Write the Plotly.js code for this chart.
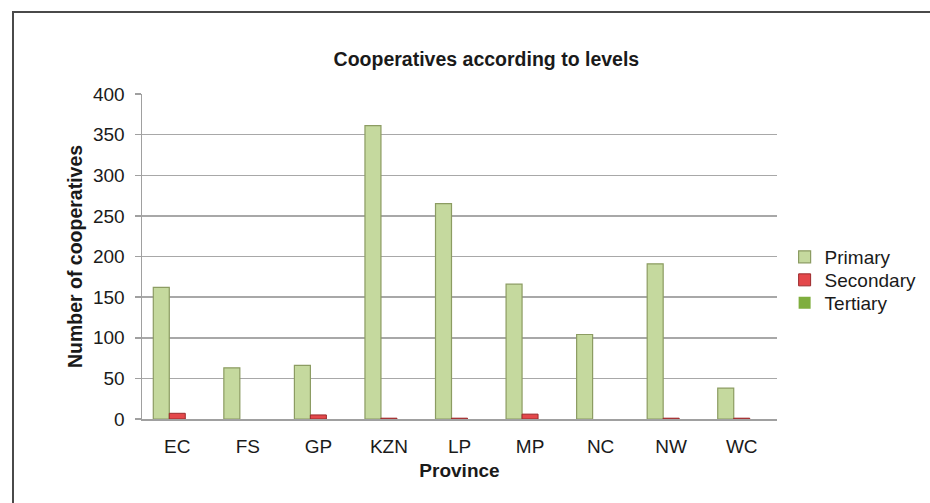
<!DOCTYPE html>
<html>
<head>
<meta charset="utf-8">
<script src="https://cdn.plot.ly/plotly-3.0.1.min.js"></script>
<style>
  html, body { margin: 0; padding: 0; background: #ffffff; }
  #wrap { position: relative; width: 930px; height: 503px; overflow: hidden; }
  #chart { width: 930px; height: 503px; }
  #frame {
    position: absolute; left: 12px; top: 11px; width: 1000px; height: 600px;
    border: 2px solid #4a4a4a; pointer-events: none; box-sizing: border-box;
  }
</style>
</head>
<body>
<div id="wrap">
  <div id="chart"></div>
  <div id="frame"></div>
</div>
<script>
// Provinces and cooperative counts per level
const provinces = ['EC', 'FS', 'GP', 'KZN', 'LP', 'MP', 'NC', 'NW', 'WC'];
const primary   = [162, 63, 66, 361, 265, 166, 104, 191, 38];
const secondary = [7, 0, 5, 1, 1, 6, 0, 1, 1];
const tertiary  = [0, 0, 0, 0, 0, 0, 0, 0, 0];
const yTicks    = [0, 50, 100, 150, 200, 250, 300, 350, 400];

const font = 'Liberation Sans, Arial, sans-serif';

// outline only where a bar actually has height
const edge = (vals, w) => vals.map(v => (v > 0 ? w : 0));

const traces = [
  {
    type: 'bar', name: 'Primary', x: provinces, y: primary, legend: 'legend',
    marker: { color: '#c5d99e', line: { color: '#8c9c62', width: 1.2 } }
  },
  {
    type: 'bar', name: 'Secondary', x: provinces, y: secondary, legend: 'legend2',
    marker: { color: '#e4484b', line: { color: '#9b2a2c', width: edge(secondary, 1) } }
  },
  {
    type: 'bar', name: 'Tertiary', x: provinces, y: tertiary, legend: 'legend3',
    marker: { color: '#7fae3e', line: { color: '#55792a', width: 0 } }
  }
];

// one legend box per level so the rows sit at a tight, even spacing
const legendBox = (yc) => ({
  x: 1.012, xanchor: 'left', y: yc, yanchor: 'middle',
  font: { family: font, size: 19, color: '#1a1a1a' },
  itemwidth: 30, bgcolor: 'rgba(0,0,0,0)'
});

const layout = {
  width: 930, height: 503,
  margin: { l: 142, r: 153, t: 94, b: 84, autoexpand: false },
  paper_bgcolor: '#ffffff', plot_bgcolor: '#ffffff',
  font: { family: font, size: 19, color: '#1a1a1a' },
  barmode: 'group', bargap: 0.32, bargroupgap: 0,
  title: {
    text: '<b>Cooperatives according to levels</b>',
    font: { family: font, size: 19.5, color: '#1a1a1a' },
    xref: 'container', x: 0.523, xanchor: 'center',
    yref: 'container', y: 0.883, yanchor: 'middle'
  },
  xaxis: {
    title: { text: '<b>Province</b>', font: { family: font, size: 19 }, standoff: 8 },
    showline: true, linecolor: '#a0a0a0', linewidth: 2,
    ticks: '', tickfont: { family: font, size: 19 }, ticklabelstandoff: 9,
    showgrid: false, zeroline: false
  },
  yaxis: {
    title: { text: '<b>Number of cooperatives</b>', font: { family: font, size: 19.5 }, standoff: 5 },
    range: [0, 400], tickvals: yTicks, ticktext: yTicks.map(String),
    showline: true, linecolor: '#a0a0a0', linewidth: 1.5,
    ticks: 'outside', ticklen: 6, tickcolor: '#a0a0a0', tickwidth: 1.5,
    ticklabelstandoff: 6,
    showgrid: true, gridcolor: '#a8a8a8', gridwidth: 1.5,
    zeroline: false, tickfont: { family: font, size: 19 }
  },
  legend: legendBox(0.4985),
  legend2: legendBox(0.4277),
  legend3: legendBox(0.357),
  showlegend: true
};

Plotly.newPlot('chart', traces, layout, { displayModeBar: false, staticPlot: true });
</script>
</body>
</html>
